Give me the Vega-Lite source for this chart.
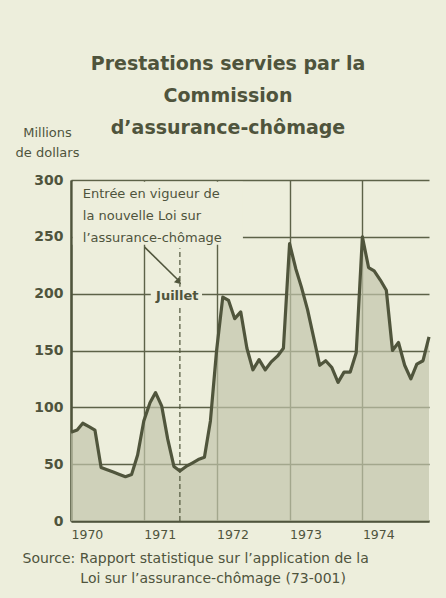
{
  "$schema": "https://vega.github.io/schema/vega-lite/v6.json",
  "width": 358,
  "height": 341,
  "autosize": {"type": "none"},
  "padding": {"left": 71, "top": 180, "right": 17, "bottom": 77},
  "background": "#edeedc",
  "config": {
    "font": "DejaVu Sans",
    "view": {"stroke": null},
    "axis": {"labelColor": "#4f543c", "titleColor": "#4f543c", "gridColor": "#5d6248", "gridWidth": 1.4, "domainColor": "#4f543c", "domainWidth": 2.5, "ticks": false, "labelFont": "DejaVu Sans", "titleFont": "DejaVu Sans"}
  },
  "title": {
    "text": ["Prestations servies par la", "Commission", "d\u2019assurance-chômage"],
    "font": "DejaVu Sans",
    "fontSize": 19,
    "fontWeight": "bold",
    "color": "#4f543c",
    "lineHeight": 32,
    "anchor": "middle",
    "frame": "group",
    "dx": -22,
    "offset": -12
  },
  "datasets": {
    "benefits": [
      {"date": "1970-01-01", "value": 78}, {"date": "1970-02-01", "value": 80}, {"date": "1970-03-01", "value": 86},
      {"date": "1970-04-01", "value": 83}, {"date": "1970-05-01", "value": 80}, {"date": "1970-06-01", "value": 47},
      {"date": "1970-07-01", "value": 45}, {"date": "1970-08-01", "value": 43}, {"date": "1970-09-01", "value": 41},
      {"date": "1970-10-01", "value": 39}, {"date": "1970-11-01", "value": 41}, {"date": "1970-12-01", "value": 58},
      {"date": "1971-01-01", "value": 88}, {"date": "1971-02-01", "value": 104}, {"date": "1971-03-01", "value": 113},
      {"date": "1971-04-01", "value": 101}, {"date": "1971-05-01", "value": 72}, {"date": "1971-06-01", "value": 48},
      {"date": "1971-07-01", "value": 44}, {"date": "1971-08-01", "value": 48}, {"date": "1971-09-01", "value": 51},
      {"date": "1971-10-01", "value": 54}, {"date": "1971-11-01", "value": 56}, {"date": "1971-12-01", "value": 88},
      {"date": "1972-01-01", "value": 150}, {"date": "1972-02-01", "value": 197}, {"date": "1972-03-01", "value": 194},
      {"date": "1972-04-01", "value": 178}, {"date": "1972-05-01", "value": 184}, {"date": "1972-06-01", "value": 152},
      {"date": "1972-07-01", "value": 133}, {"date": "1972-08-01", "value": 142}, {"date": "1972-09-01", "value": 133},
      {"date": "1972-10-01", "value": 140}, {"date": "1972-11-01", "value": 145}, {"date": "1972-12-01", "value": 152},
      {"date": "1973-01-01", "value": 244}, {"date": "1973-02-01", "value": 222}, {"date": "1973-03-01", "value": 206},
      {"date": "1973-04-01", "value": 186}, {"date": "1973-05-01", "value": 162}, {"date": "1973-06-01", "value": 137},
      {"date": "1973-07-01", "value": 141}, {"date": "1973-08-01", "value": 135}, {"date": "1973-09-01", "value": 122},
      {"date": "1973-10-01", "value": 131}, {"date": "1973-11-01", "value": 131}, {"date": "1973-12-01", "value": 148},
      {"date": "1974-01-01", "value": 250}, {"date": "1974-02-01", "value": 223}, {"date": "1974-03-01", "value": 220},
      {"date": "1974-04-01", "value": 212}, {"date": "1974-05-01", "value": 203}, {"date": "1974-06-01", "value": 150},
      {"date": "1974-07-01", "value": 157}, {"date": "1974-08-01", "value": 137}, {"date": "1974-09-01", "value": 125},
      {"date": "1974-10-01", "value": 138}, {"date": "1974-11-01", "value": 141}, {"date": "1974-12-01", "value": 162}
    ],
    "one": [{}]
  },
  "layer": [
    {
      "data": {"name": "benefits"},
      "mark": {"type": "area", "color": "#c2c5ab", "line": {"color": "#50553c", "strokeWidth": 3.2, "strokeJoin": "round"}},
      "encoding": {
        "x": {
          "field": "date", "timeUnit": "utcyearmonth", "type": "temporal",
          "scale": {"domain": [{"year": 1970, "month": 1, "date": 1, "utc": true}, {"year": 1974, "month": 12, "date": 1, "utc": true}]},
          "axis": {
            "values": [{"year": 1970, "month": 1, "date": 1, "utc": true}, {"year": 1971, "month": 1, "date": 1, "utc": true}, {"year": 1972, "month": 1, "date": 1, "utc": true}, {"year": 1973, "month": 1, "date": 1, "utc": true}, {"year": 1974, "month": 1, "date": 1, "utc": true}],
            "labelExpr": "utcFormat(datum.value, '%Y')",
            "labelAlign": "left", "labelPadding": 7, "labelFontSize": 12.5, "labelOverlap": false, "labelFlush": false,
            "grid": true,
            "title": ["Source: Rapport statistique sur l\u2019application de la", "\u200b\u00a0\u00a0\u00a0\u00a0\u00a0\u00a0\u00a0\u00a0\u00a0\u00a0\u00a0\u00a0\u00a0Loi sur l\u2019assurance-chômage (73-001)"],
            "titleAnchor": "start", "titleAlign": "left", "titleBaseline": "alphabetic",
            "titleX": -49, "titleY": 41, "titleFontSize": 14, "titleFontWeight": "normal", "titleLineHeight": 20
          }
        },
        "y": {
          "field": "value", "type": "quantitative",
          "scale": {"domain": [0, 300], "nice": false},
          "axis": {
            "values": [0, 50, 100, 150, 200, 250, 300],
            "labelFontSize": 14, "labelFontWeight": "bold", "labelPadding": 8,
            "grid": true,
            "title": ["Millions", "de dollars"],
            "titleAngle": 0, "titleAlign": "center", "titleBaseline": "alphabetic",
            "titleX": -24, "titleY": -44, "titleFontSize": 13, "titleFontWeight": "normal", "titleLineHeight": 20
          }
        }
      }
    },
    {
      "data": {"name": "one"},
      "mark": {"type": "rule", "color": "#50553c", "strokeWidth": 1.2, "strokeDash": [5, 3]},
      "encoding": {
        "x": {"datum": {"year": 1971, "month": 7, "date": 1, "utc": true}, "type": "temporal"},
        "y": {"datum": 0, "type": "quantitative"},
        "y2": {"datum": 240}
      }
    },
    {
      "data": {"name": "one"},
      "mark": {"type": "rect", "color": "#edeedc"},
      "encoding": {
        "x": {"datum": {"year": 1970, "month": 1, "date": 10, "utc": true}, "type": "temporal"},
        "x2": {"datum": {"year": 1972, "month": 5, "date": 12, "utc": true}},
        "y": {"datum": 243, "type": "quantitative"},
        "y2": {"datum": 298.5}
      }
    },
    {
      "data": {"name": "one"},
      "mark": {"type": "rect", "color": "#edeedc"},
      "encoding": {
        "x": {"datum": {"year": 1971, "month": 2, "date": 5, "utc": true}, "type": "temporal"},
        "x2": {"datum": {"year": 1971, "month": 10, "date": 20, "utc": true}},
        "y": {"datum": 190, "type": "quantitative"},
        "y2": {"datum": 206}
      }
    },
    {
      "data": {"name": "one"},
      "mark": {"type": "text", "align": "left", "baseline": "alphabetic", "fontSize": 13, "lineHeight": 22, "color": "#4f543c"},
      "encoding": {
        "x": {"datum": {"year": 1970, "month": 3, "date": 1, "utc": true}, "type": "temporal"},
        "y": {"datum": 284, "type": "quantitative"},
        "text": {"value": ["Entrée en vigueur de", "la nouvelle Loi sur", "l\u2019assurance-chômage"]}
      }
    },
    {
      "data": {"name": "one"},
      "mark": {"type": "text", "align": "center", "baseline": "middle", "fontSize": 13, "fontWeight": "bold", "color": "#4f543c"},
      "encoding": {
        "x": {"datum": {"year": 1971, "month": 6, "date": 18, "utc": true}, "type": "temporal"},
        "y": {"datum": 198, "type": "quantitative"},
        "text": {"value": "Juillet"}
      }
    },
    {
      "data": {"name": "one"},
      "mark": {"type": "rule", "color": "#50553c", "strokeWidth": 1.6},
      "encoding": {
        "x": {"datum": {"year": 1971, "month": 1, "date": 5, "utc": true}, "type": "temporal"},
        "x2": {"datum": {"year": 1971, "month": 6, "date": 22, "utc": true}},
        "y": {"datum": 241, "type": "quantitative"},
        "y2": {"datum": 212}
      }
    },
    {
      "data": {"name": "one"},
      "mark": {"type": "point", "shape": "triangle", "filled": true, "color": "#50553c", "size": 55, "angle": 135, "opacity": 1},
      "encoding": {
        "x": {"datum": {"year": 1971, "month": 6, "date": 22, "utc": true}, "type": "temporal"},
        "y": {"datum": 211, "type": "quantitative"}
      }
    }
  ]
}
